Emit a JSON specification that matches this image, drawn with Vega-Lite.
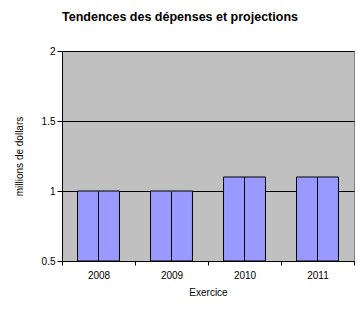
{
  "$schema": "https://vega.github.io/schema/vega-lite/v6.json",
  "autosize": {"type": "none"},
  "width": 292,
  "height": 210,
  "padding": {"left": 62, "top": 51, "right": 9, "bottom": 54},
  "background": "white",
  "title": {
    "text": "Tendences des dépenses et projections",
    "font": "Liberation Sans",
    "fontSize": 12.5,
    "fontWeight": "bold",
    "color": "black",
    "anchor": "middle",
    "dx": -28,
    "offset": 23
  },
  "data": {
    "values": [
      {"annee": "2008", "serie": "A", "valeur": 1.0},
      {"annee": "2008", "serie": "B", "valeur": 1.0},
      {"annee": "2009", "serie": "A", "valeur": 1.0},
      {"annee": "2009", "serie": "B", "valeur": 1.0},
      {"annee": "2010", "serie": "A", "valeur": 1.1},
      {"annee": "2010", "serie": "B", "valeur": 1.1},
      {"annee": "2011", "serie": "A", "valeur": 1.1},
      {"annee": "2011", "serie": "B", "valeur": 1.1}
    ]
  },
  "mark": {"type": "bar", "fill": "#9999FF", "stroke": "black", "strokeWidth": 1},
  "encoding": {
    "x": {
      "field": "annee",
      "type": "nominal",
      "scale": {"paddingInner": 0, "paddingOuter": 0},
      "axis": {
        "title": "Exercice",
        "labelAngle": 0,
        "tickBand": "extent",
        "grid": false,
        "domainColor": "black",
        "tickColor": "black",
        "tickSize": 4,
        "labelPadding": 5,
        "titlePadding": 7
      }
    },
    "xOffset": {
      "field": "serie",
      "type": "nominal",
      "scale": {"paddingInner": 0, "paddingOuter": 0.74}
    },
    "y": {
      "field": "valeur",
      "type": "quantitative",
      "scale": {"domain": [0.5, 2], "zero": false, "nice": false},
      "axis": {
        "title": "millions de dollars",
        "values": [0.5, 1, 1.5, 2],
        "format": "~g",
        "grid": true,
        "gridColor": "black",
        "gridOpacity": 1,
        "domainColor": "black",
        "tickColor": "black",
        "tickSize": 5,
        "labelPadding": 2,
        "titlePadding": 17
      }
    },
    "y2": {"datum": 0.5}
  },
  "config": {
    "font": "Liberation Sans",
    "view": {"fill": "#C0C0C0", "stroke": "#808080", "strokeWidth": 1},
    "axis": {
      "labelFont": "Liberation Sans",
      "labelFontSize": 10,
      "labelColor": "black",
      "titleFont": "Liberation Sans",
      "titleFontSize": 10,
      "titleFontWeight": "normal",
      "titleColor": "black",
      "domainWidth": 1,
      "tickWidth": 1,
      "gridWidth": 1
    }
  }
}
